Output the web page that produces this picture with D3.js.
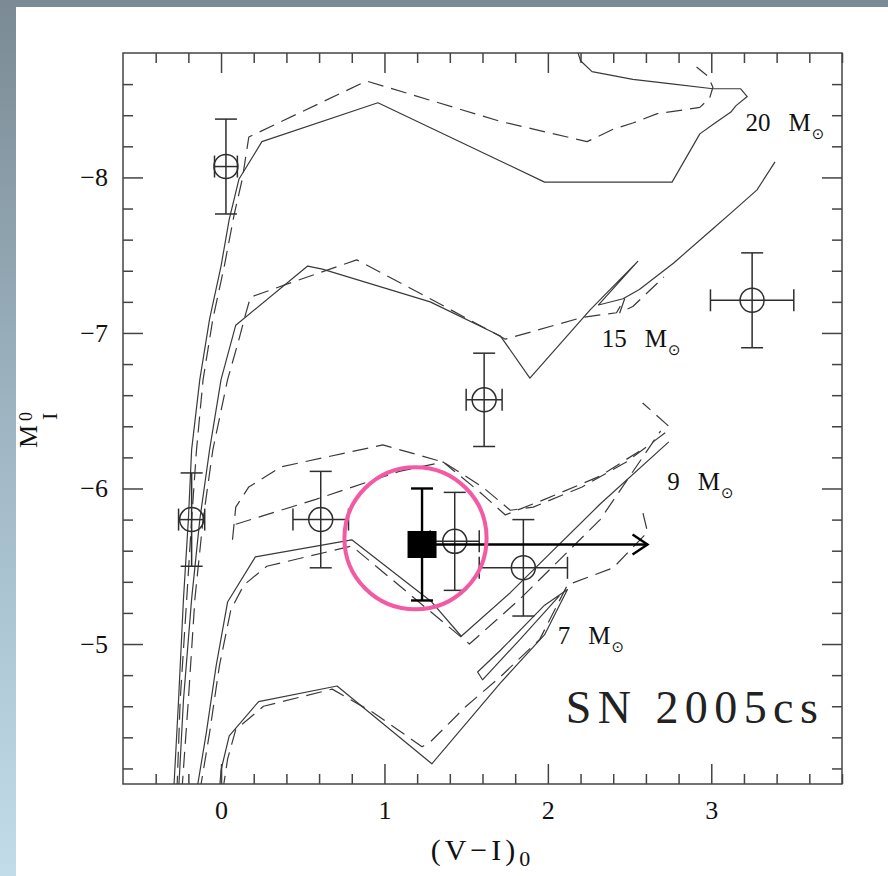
<!DOCTYPE html>
<html>
<head>
<meta charset="utf-8">
<script src="https://cdn.jsdelivr.net/npm/d3@7"></script>
<style>
  html, body { margin: 0; padding: 0; background: #fff; }
  svg { display: block; }
</style>
</head>
<body>
<svg id="chart" width="888" height="876"></svg>
<script>
// Stellar evolution tracks, [(V-I)0, M_I0] pairs
const track20Solid = [[-0.29,-4.05],[-0.26,-4.64],[-0.23,-5.29],[-0.20,-5.80],[-0.18,-6.25],[-0.13,-6.70],[-0.07,-7.09],[0.00,-7.43],[0.05,-7.73],[0.11,-7.99],[0.25,-8.23],[0.96,-8.48],[1.98,-7.97],[2.76,-7.97],[2.93,-8.28],[3.01,-8.34],[3.12,-8.42],[3.15,-8.46],[3.22,-8.52],[3.18,-8.57],[3.01,-8.57],[2.77,-8.60],[2.52,-8.63],[2.27,-8.68],[2.20,-8.75],[2.17,-8.85]];
const track20Dashed = [[-0.27,-4.05],[-0.25,-4.64],[-0.21,-5.29],[-0.18,-5.80],[-0.15,-6.25],[-0.11,-6.70],[-0.05,-7.09],[0.02,-7.43],[0.08,-7.76],[0.13,-7.99],[0.17,-8.26],[0.89,-8.62],[1.71,-8.36],[2.24,-8.23],[2.30,-8.26],[2.40,-8.31],[2.52,-8.35],[2.67,-8.41],[2.93,-8.45],[2.99,-8.51],[3.01,-8.58],[2.98,-8.65],[2.91,-8.71]];
const track15Solid = [[-0.26,-4.05],[-0.23,-4.64],[-0.18,-5.29],[-0.13,-5.80],[-0.07,-6.25],[0.00,-6.70],[0.09,-7.05],[0.53,-7.43],[0.62,-7.41],[1.28,-7.20],[1.71,-6.98],[1.89,-6.71],[2.26,-7.15],[2.55,-7.46],[2.31,-7.18],[2.46,-7.22],[2.56,-7.28],[2.77,-7.45],[3.01,-7.67],[3.13,-7.78],[3.28,-7.92],[3.39,-8.10]];
const track15Dashed = [[-0.24,-4.05],[-0.20,-4.64],[-0.16,-5.29],[-0.11,-5.80],[-0.05,-6.25],[0.04,-6.70],[0.11,-6.96],[0.15,-7.12],[0.18,-7.23],[0.42,-7.32],[0.83,-7.47],[1.28,-7.22],[1.74,-6.96],[2.21,-7.10],[2.42,-7.13],[2.47,-7.22],[2.44,-7.13],[2.52,-7.17],[2.71,-7.36]];
const track9Solid = [[-0.15,-4.05],[-0.09,-4.43],[-0.03,-4.86],[0.04,-5.27],[0.21,-5.56],[0.80,-5.67],[1.29,-5.27],[1.47,-5.05],[1.77,-5.33],[2.32,-5.90],[2.74,-6.30]];
const track9Dashed = [[-0.13,-4.05],[-0.07,-4.43],[-0.01,-4.86],[0.06,-5.22],[0.14,-5.38],[0.28,-5.50],[0.80,-5.63],[1.28,-5.21],[1.52,-5.00],[1.83,-5.29],[2.32,-5.80],[2.69,-6.37]];
const track9LoopA = [[0.07,-5.67],[0.09,-5.88],[0.17,-6.01],[0.37,-6.14],[0.99,-6.28],[1.36,-6.17],[1.60,-6.01],[1.77,-5.86],[1.91,-5.88],[2.21,-6.01],[2.48,-6.17],[2.72,-6.36],[2.74,-6.40],[2.58,-6.55]];
const track9LoopB = [[0.09,-5.77],[0.58,-5.93],[1.09,-6.11],[1.36,-6.17],[1.58,-5.98],[1.74,-5.83],[1.98,-5.93],[2.32,-6.08],[2.56,-6.24]];
const track7Solid = [[-0.01,-4.05],[0.00,-4.19],[0.05,-4.41],[0.23,-4.63],[0.71,-4.73],[1.29,-4.23],[1.71,-4.75],[1.98,-5.06],[2.12,-5.35],[1.98,-5.25],[1.71,-4.96],[1.57,-4.82],[1.60,-4.77],[1.83,-5.03],[2.07,-5.31]];
const track7Dashed = [[0.01,-4.05],[0.04,-4.26],[0.09,-4.45],[0.26,-4.60],[0.68,-4.71],[0.93,-4.56],[1.23,-4.34],[1.28,-4.37],[1.50,-4.60],[1.71,-4.79],[1.95,-5.03],[2.12,-5.38],[2.40,-5.49],[2.61,-5.72],[2.58,-5.85]];

// stars near the SN position (open circles with error bars)
const starColor = [0.03, 3.25, 1.61, -0.18, 0.61, 1.43, 1.85];
const starMag   = [-8.07, -7.21, -6.57, -5.80, -5.80, -5.66, -5.49];
const starErrX  = [0.07, 0.255, 0.11, 0.08, 0.17, 0.15, 0.27];
const starErrY  = [0.305, 0.305, 0.30, 0.30, 0.31, 0.315, 0.31];

// progenitor (filled square) and its colour lower limit
const progColor = 1.23;
const progMag = -5.64;
const progErrY = 0.36;
const progArrowTo = 2.61;

const massLabels = ['20', '15', '9', '7'];
const massLabelX = [3.21, 2.33, 2.73, 2.06];
const massLabelY = [-8.30, -6.91, -5.99, -5.00];

const xMajor = [0, 1, 2, 3];
const yMajor = [-8, -7, -6, -5];

const tracks = [
    { pts: track20Solid, dashed: false },
    { pts: track20Dashed, dashed: true },
    { pts: track15Solid, dashed: false },
    { pts: track15Dashed, dashed: true },
    { pts: track9Solid, dashed: false },
    { pts: track9Dashed, dashed: true },
    { pts: track9LoopA, dashed: true },
    { pts: track9LoopB, dashed: true },
    { pts: track7Solid, dashed: false },
    { pts: track7Dashed, dashed: true }
];

const W = 888, H = 876;
const pLeft = 123, pRight = 842, pTop = 53, pBottom = 784;
const serif = '"Liberation Serif", "DejaVu Serif", serif';
const ink = '#2e2e2e';

const svg = d3.select('#chart');

// slide background
const defs = svg.append('defs');
const grad = defs.append('linearGradient').attr('id', 'band')
    .attr('x1', 0).attr('y1', 0).attr('x2', 0).attr('y2', 1);
grad.append('stop').attr('offset', '0%').attr('stop-color', '#7b8a94');
grad.append('stop').attr('offset', '50%').attr('stop-color', '#9fb7c4');
grad.append('stop').attr('offset', '100%').attr('stop-color', '#c2dcea');
defs.append('clipPath').attr('id', 'plotclip')
    .append('rect').attr('x', pLeft).attr('y', pTop)
    .attr('width', pRight - pLeft).attr('height', pBottom - pTop);

svg.append('rect').attr('width', W).attr('height', H).attr('fill', '#fff');
svg.append('rect').attr('x', 0).attr('y', 0).attr('width', 16).attr('height', H).attr('fill', 'url(#band)');
svg.append('rect').attr('x', 0).attr('y', 0).attr('width', W).attr('height', 7).attr('fill', '#7b8a94');

const x = d3.scaleLinear().domain([-0.6, 3.8]).range([pLeft, pRight]);
const y = d3.scaleLinear().domain([-8.8, -4.1]).range([pTop, pBottom]);

const xMinor = d3.range(-0.4, 3.81, 0.2).filter(v => Math.abs(v - Math.round(v)) > 0.01);
const yMinor = d3.range(-8.6, -4.11, 0.2).filter(v => Math.abs(v - Math.round(v)) > 0.01);

function styleAxis(g) {
    g.select('.domain').remove();
    g.selectAll('line').attr('stroke', '#444').attr('stroke-width', 1.5);
    g.selectAll('text').attr('font-family', serif).attr('font-size', 26).attr('fill', '#111');
}

// ticks point inward on all four sides
svg.append('g').attr('transform', `translate(0,${pBottom})`)
    .call(d3.axisBottom(x).tickValues(xMajor).tickSize(-20).tickPadding(17).tickFormat(d3.format('d')))
    .call(styleAxis);
svg.append('g').attr('transform', `translate(0,${pBottom})`)
    .call(d3.axisBottom(x).tickValues(xMinor).tickSize(-10).tickFormat(''))
    .call(styleAxis);
svg.append('g').attr('transform', `translate(0,${pTop})`)
    .call(d3.axisTop(x).tickValues(xMajor).tickSize(-20).tickFormat(''))
    .call(styleAxis);
svg.append('g').attr('transform', `translate(0,${pTop})`)
    .call(d3.axisTop(x).tickValues(xMinor).tickSize(-10).tickFormat(''))
    .call(styleAxis);
svg.append('g').attr('transform', `translate(${pLeft},0)`)
    .call(d3.axisLeft(y).tickValues(yMajor).tickSize(-20).tickPadding(15).tickFormat(d3.format('d')))
    .call(styleAxis);
svg.append('g').attr('transform', `translate(${pLeft},0)`)
    .call(d3.axisLeft(y).tickValues(yMinor).tickSize(-10).tickFormat(''))
    .call(styleAxis);
svg.append('g').attr('transform', `translate(${pRight},0)`)
    .call(d3.axisRight(y).tickValues(yMajor).tickSize(-20).tickFormat(''))
    .call(styleAxis);
svg.append('g').attr('transform', `translate(${pRight},0)`)
    .call(d3.axisRight(y).tickValues(yMinor).tickSize(-10).tickFormat(''))
    .call(styleAxis);

svg.append('rect')
    .attr('x', pLeft).attr('y', pTop)
    .attr('width', pRight - pLeft).attr('height', pBottom - pTop)
    .attr('fill', 'none').attr('stroke', '#444').attr('stroke-width', 1.5);

// tracks
const line = d3.line().x(d => x(d[0])).y(d => y(d[1]));
svg.append('g').attr('clip-path', 'url(#plotclip)')
    .selectAll('path')
    .data(tracks)
    .enter().append('path')
    .attr('d', d => line(d.pts))
    .attr('fill', 'none')
    .attr('stroke', '#3a3a3a')
    .attr('stroke-width', 1.2)
    .attr('stroke-linejoin', 'round')
    .attr('stroke-dasharray', d => d.dashed ? '16,8' : null);

// open-circle stars with error bars
const cap = 11;
const stars = starColor.map((c, i) => ({ c, m: starMag[i], ex: starErrX[i], ey: starErrY[i] }));
const sg = svg.append('g').attr('stroke', ink).attr('stroke-width', 1.5).attr('fill', 'none');
stars.forEach(s => {
    const cx = x(s.c), cy = y(s.m);
    const x0 = x(s.c - s.ex), x1 = x(s.c + s.ex);
    const y0 = y(s.m - s.ey), y1 = y(s.m + s.ey);
    sg.append('line').attr('x1', cx).attr('x2', cx).attr('y1', y0).attr('y2', y1);
    sg.append('line').attr('x1', x0).attr('x2', x1).attr('y1', cy).attr('y2', cy);
    sg.append('line').attr('x1', cx - cap).attr('x2', cx + cap).attr('y1', y0).attr('y2', y0);
    sg.append('line').attr('x1', cx - cap).attr('x2', cx + cap).attr('y1', y1).attr('y2', y1);
    sg.append('line').attr('x1', x0).attr('x2', x0).attr('y1', cy - cap).attr('y2', cy + cap);
    sg.append('line').attr('x1', x1).attr('x2', x1).attr('y1', cy - cap).attr('y2', cy + cap);
    sg.append('circle').attr('cx', cx).attr('cy', cy).attr('r', 12);
});

// progenitor: filled square, error bar, arrow to the red
const px = x(progColor), py = y(progMag);
const pg = svg.append('g').attr('stroke', '#000').attr('stroke-width', 2.4).attr('fill', 'none');
pg.append('line').attr('x1', px).attr('x2', px).attr('y1', y(progMag - progErrY)).attr('y2', y(progMag + progErrY));
pg.append('line').attr('x1', px - cap).attr('x2', px + cap).attr('y1', y(progMag - progErrY)).attr('y2', y(progMag - progErrY));
pg.append('line').attr('x1', px - cap).attr('x2', px + cap).attr('y1', y(progMag + progErrY)).attr('y2', y(progMag + progErrY));
const tip = x(progArrowTo);
pg.append('line').attr('x1', px).attr('x2', tip).attr('y1', py).attr('y2', py);
pg.append('path').attr('d', `M${tip - 15},${py - 10}L${tip},${py}L${tip - 15},${py + 10}`);
svg.append('rect').attr('x', px - 14.5).attr('y', py - 13.5).attr('width', 29).attr('height', 27).attr('fill', '#000');

// highlight ring
const ringR = x(1.19 + 0.435) - x(1.19);
svg.append('circle')
    .attr('cx', x(1.19)).attr('cy', y(-5.68)).attr('r', ringR)
    .attr('fill', 'none').attr('stroke', '#f35aa3').attr('stroke-width', 4);

// mass labels
massLabels.forEach((m, i) => {
    const t = svg.append('text')
        .attr('x', x(massLabelX[i])).attr('y', y(massLabelY[i]))
        .attr('font-family', serif).attr('font-size', 25).attr('fill', '#111');
    t.append('tspan').text(m);
    t.append('tspan').attr('dx', 18).text('M');
    t.append('tspan').attr('dx', 1).attr('dy', 8)
        .attr('font-family', '"DejaVu Sans", sans-serif').attr('font-size', 15).text('\u2299');
});

svg.append('text')
    .attr('x', x(2.11)).attr('y', y(-4.49))
    .attr('font-family', serif).attr('font-size', 46).attr('fill', '#222')
    .attr('textLength', 252).attr('lengthAdjust', 'spacing')
    .text('SN 2005cs');

// axis titles
const xt = svg.append('text')
    .attr('x', (pLeft + pRight) / 2).attr('y', 860)
    .attr('text-anchor', 'middle')
    .attr('font-family', serif).attr('font-size', 30).attr('fill', '#111')
    .attr('letter-spacing', 4);
xt.append('tspan').text('(V\u2212I)');
xt.append('tspan').attr('dy', 6).attr('font-size', 22).text('0');

const yt = svg.append('text')
    .attr('transform', 'translate(37,448) rotate(-90)')
    .attr('font-family', serif).attr('fill', '#111');
yt.append('tspan').attr('x', 0).attr('y', 0).attr('font-size', 26).text('M');
yt.append('tspan').attr('x', 28).attr('y', 20).attr('font-size', 22).text('I');
yt.append('tspan').attr('x', 27).attr('y', -5).attr('font-size', 18).text('0');
</script>
</body>
</html>
